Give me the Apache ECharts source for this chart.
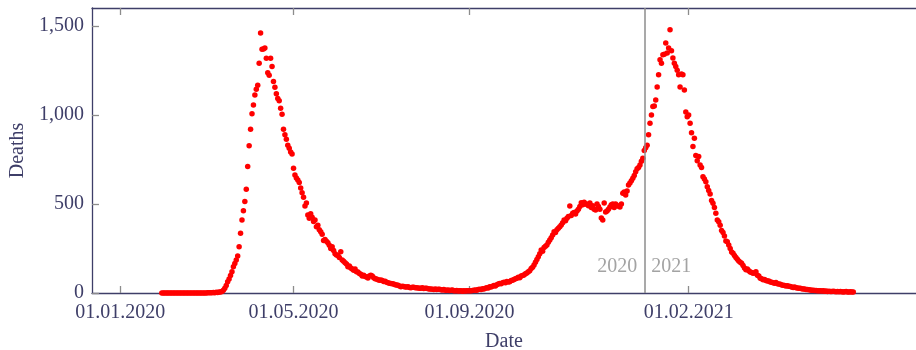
<!DOCTYPE html>
<html>
<head>
<meta charset="utf-8">
<script src="https://cdn.jsdelivr.net/npm/echarts@6/dist/echarts.min.js"></script>
<style>html,body{margin:0;padding:0;background:#fff}#c{width:916px;height:350px}</style>
</head>
<body>
<div id="c"></div>
<script>
// ---- data: daily deaths, one array per month (first date of each array given) ----
const deaths2020Jan = [0, 0];
const deaths2020Feb = [0,0,0,0,0,0,0,0,0,0,0,0,0,0,0,0,0,0,0,0,0,0,0,0,0,0,0,0,0];
const deaths2020Mar = [0,1,1,2,1,3,2,4,3,5,6,9,15,27,42,63,78,98,120,148,166,185,208,260,335,410,462,513,583,710,827];
const deaths2020Apr = [920,1006,1056,1112,1144,1167,1290,1459,1369,1370,1375,1318,1236,1222,1318,1271,1187,1155,1118,1092,1080,1037,1004,920,888,863,830,813,792,780];
const deaths2020May = [700,663,645,635,620,590,563,537,489,505,438,420,445,425,402,410,372,380,355,344,330,295,300,290,282,268,250,260,238,220,213];
const deaths2020Jun = [210,200,232,185,178,170,163,148,152,140,135,128,135,120,118,110,105,96,100,92,90,84,95,100,96,86,80,78,75,72];
const deaths2020Jul = [73,70,65,66,60,58,55,54,52,50,47,45,44,40,35,38,36,34,33,35,31,30,32,32,29,30,28,27,26,29,25];
const deaths2020Aug = [26,26,24,22,23,21,20,22,19,21,21,18,17,19,16,15,17,14,16,17,13,12,14,11,13,12,10,12,11,13,12];
const deaths2020Sep = [12,13,14,15,17,16,19,21,20,24,22,27,30,28,35,33,38,42,40,47,50,54,52,58,60,57,65,62,63,70];
const deaths2020Oct = [72,76,80,83,88,85,95,98,101,108,112,120,125,138,145,157,172,188,204,220,242,235,255,262,270,285,298,310,325,344,340];
const deaths2020Nov = [355,363,372,382,395,410,405,420,429,489,435,448,452,444,460,470,485,507,495,510,500,498,490,505,480,490,470,466,500,485];
const deaths2020Dec = [470,421,410,505,455,460,470,483,495,500,480,500,490,489,483,500,560,567,550,573,606,618,630,644,660,681,697,705,719,740,757];
const deaths2021Jan = [800,815,830,888,953,1000,1047,1050,1084,1156,1225,1309,1290,1337,1340,1403,1347,1376,1478,1360,1320,1290,1271,1250,1225,1156,1230,1225,1140,1016,990];
const deaths2021Feb = [1000,953,900,822,869,772,743,766,719,705,653,640,625,597,575,556,520,504,480,448,410,400,380,351,340,320,292,288];
const deaths2021Mar = [270,250,230,223,210,200,190,180,172,167,155,140,130,135,125,118,115,111,112,120,100,95,83,80,74,76,70,68,67,62,60];
const deaths2021Apr = [58,55,59,52,50,49,45,44,42,40,41,38,36,34,31,34,30,28,26,27,24,22,23,20,19,18,17,16,15,14];
const deaths2021May = [14,13,12,13,11,12,10,11,9,10,9,8,10,8,7,9,7,8,7,6,7,8,6,5,7,6,5];

const monthParts = [
  ['2020-01-30', deaths2020Jan], ['2020-02-01', deaths2020Feb], ['2020-03-01', deaths2020Mar],
  ['2020-04-01', deaths2020Apr], ['2020-05-01', deaths2020May], ['2020-06-01', deaths2020Jun],
  ['2020-07-01', deaths2020Jul], ['2020-08-01', deaths2020Aug], ['2020-09-01', deaths2020Sep],
  ['2020-10-01', deaths2020Oct], ['2020-11-01', deaths2020Nov], ['2020-12-01', deaths2020Dec],
  ['2021-01-01', deaths2021Jan], ['2021-02-01', deaths2021Feb], ['2021-03-01', deaths2021Mar],
  ['2021-04-01', deaths2021Apr], ['2021-05-01', deaths2021May]
];

const xTickDates  = ['2020-01-01', '2020-05-01', '2020-09-01', '2021-02-01'];
const xTickLabels = ['01.01.2020', '01.05.2020', '01.09.2020', '01.02.2021'];
const yTickValues = [0, 500, 1000, 1500];
const yearBoundary = '2021-01-01';
const yearLabels = ['2020', '2021'];

// ---- build: x measured in days since 2020-01-01 ----
const DAY = 86400000;
const T0 = Date.UTC(2020, 0, 1);
function dayIndex(s, addDays) {
  const [y, m, d] = s.split('-').map(Number);
  return Math.round((Date.UTC(y, m - 1, d + (addDays || 0)) - T0) / DAY);
}
const points = [];
monthParts.forEach(([start, arr]) => arr.forEach((v, i) => points.push([dayIndex(start, i), v])));
const xTickDays = xTickDates.map(s => dayIndex(s));
const xMin = -19.76, xMax = 555.8;
const boundaryDay = dayIndex(yearBoundary);

const FONT = 'Liberation Serif';
const TEXT = '#3e3e68';
const AXIS = '#3e3e68';
const TICK = '#8c8c8c';

function xFmt(v) {
  const i = xTickDays.findIndex(t => Math.abs(v - t) < 0.5);
  return i >= 0 ? xTickLabels[i] : '';
}
const tickStyle = { inside: true, length: 7, lineStyle: { color: TICK, width: 1.3 } };
const lineStyle = { show: true, onZero: false, lineStyle: { color: AXIS, width: 1.3 } };

const chart = echarts.init(document.getElementById('c'));
chart.setOption({
  animation: false,
  grid: { left: 92, right: 0, top: 8, bottom: 57, outerBoundsMode: 'none', containLabel: false },
  xAxis: [
    {
      type: 'value', min: xMin, max: xMax, position: 'bottom',
      axisLine: lineStyle,
      axisTick: Object.assign({ customValues: xTickDays }, tickStyle),
      axisLabel: { customValues: xTickDays, formatter: xFmt, color: TEXT, fontFamily: FONT, fontSize: 20, margin: 10 },
      splitLine: { show: false },
      name: 'Date', nameLocation: 'middle', nameGap: 39,
      nameTextStyle: { color: TEXT, fontFamily: FONT, fontSize: 20 }
    },
    {
      type: 'value', min: xMin, max: xMax, position: 'top',
      axisLine: lineStyle,
      axisTick: Object.assign({ customValues: xTickDays }, tickStyle),
      axisLabel: { show: false },
      splitLine: { show: false }
    }
  ],
  yAxis: {
    type: 'value', min: 0, max: 1600,
    axisLine: lineStyle,
    axisTick: Object.assign({ customValues: yTickValues }, tickStyle),
    axisLabel: { customValues: yTickValues, formatter: v => v.toLocaleString('en-US'), color: TEXT, fontFamily: FONT, fontSize: 20, margin: 8 },
    splitLine: { show: false },
    name: 'Deaths', nameLocation: 'middle', nameGap: 64, nameRotate: 90,
    nameTextStyle: { color: TEXT, fontFamily: FONT, fontSize: 20 }
  },
  series: [
    {
      type: 'scatter', data: points, symbolSize: 5.5, clip: false,
      itemStyle: { color: '#ff0000', opacity: 1 },
      emphasis: { disabled: true },
      markLine: {
        silent: true, symbol: ['none', 'none'], label: { show: false },
        lineStyle: { color: TICK, width: 1.5, type: 'solid' },
        data: [{ xAxis: boundaryDay }]
      }
    },
    {
      type: 'scatter', symbolSize: 0, silent: true,
      label: { show: true, color: TICK, fontFamily: FONT, fontSize: 20, distance: 7 },
      data: [
        { value: [boundaryDay, 145], label: { position: 'left', formatter: yearLabels[0] } },
        { value: [boundaryDay, 145], label: { position: 'right', formatter: yearLabels[1] } }
      ]
    }
  ]
});
</script>
</body>
</html>
